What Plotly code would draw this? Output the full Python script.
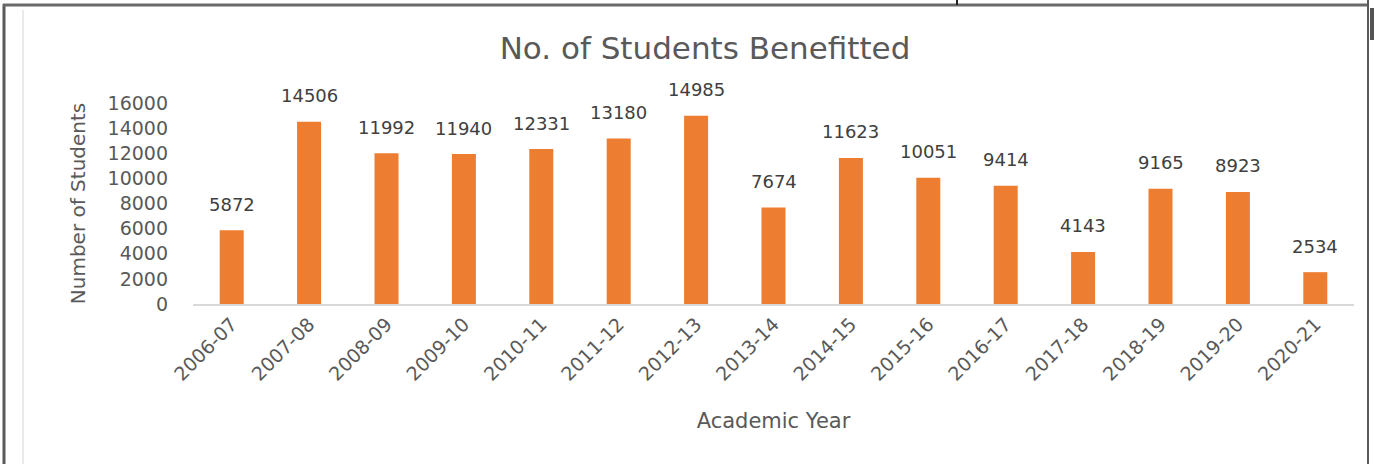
import plotly.graph_objects as go

years = ["2006-07", "2007-08", "2008-09", "2009-10", "2010-11", "2011-12", "2012-13",
         "2013-14", "2014-15", "2015-16", "2016-17", "2017-18", "2018-19", "2019-20", "2020-21"]
students = [5872, 14506, 11992, 11940, 12331, 13180, 14985,
            7674, 11623, 10051, 9414, 4143, 9165, 8923, 2534]
y_ticks = [0, 2000, 4000, 6000, 8000, 10000, 12000, 14000, 16000]

W, H = 1378, 464
ML, MR, MT, MB = 193, 24, 103, 160
PW, PH = W - ML - MR, H - MT - MB

def px(x):
    return (x - ML) / PW

def py(y):
    return (H - MB - y) / PH

FONT = "DejaVu Sans"
GRAY = "#595959"

fig = go.Figure(go.Bar(
    x=years, y=students,
    marker=dict(color="#ED7D31", line=dict(width=0)),
    cliponaxis=False,
))

annotations = [
    dict(x=yr, y=v, xref="x", yref="y", text=str(v), showarrow=False,
         yanchor="middle", yshift=26,
         font=dict(family=FONT, size=18, color="#404040"))
    for yr, v in zip(years, students)
]

shapes = [
    dict(type="line", xref="paper", yref="paper", x0=px(4), x1=px(4), y0=py(464), y1=py(4),
         line=dict(color="#5a5a5a", width=3)),
    dict(type="line", xref="paper", yref="paper", x0=px(3), x1=px(1369), y0=py(5), y1=py(5),
         line=dict(color="#6a6a6a", width=3)),
    dict(type="line", xref="paper", yref="paper", x0=px(1368), x1=px(1368), y0=py(464), y1=py(0),
         line=dict(color="#5a5a5a", width=2)),
    dict(type="line", xref="paper", yref="paper", x0=px(23), x1=px(23), y0=py(464), y1=py(10),
         line=dict(color="#d4d4d4", width=1)),
    dict(type="line", xref="paper", yref="paper", x0=px(1372), x1=px(1372), y0=py(8), y1=py(40),
         line=dict(color="#555555", width=4)),
    dict(type="line", xref="paper", yref="paper", x0=px(957), x1=px(957), y0=py(0), y1=py(5),
         line=dict(color="#222222", width=2)),
]

fig.update_layout(
    width=W, height=H,
    margin=dict(l=ML, r=MR, t=MT, b=MB, autoexpand=False),
    paper_bgcolor="white", plot_bgcolor="white",
    bargap=0.69,
    showlegend=False,
    title=dict(text="No. of Students Benefitted", x=705 / W, xanchor="center",
               y=1 - 48 / H, yanchor="middle",
               font=dict(family=FONT, size=31, color=GRAY)),
    xaxis=dict(
        type="category", tickangle=-45, showgrid=False,
        showline=True, linecolor="#d9d9d9", linewidth=1.5,
        ticks="", tickfont=dict(family=FONT, size=19, color=GRAY),
        title=dict(text="Academic Year", font=dict(family=FONT, size=21, color=GRAY), standoff=30),
    ),
    yaxis=dict(
        range=[0, 16000], tickvals=y_ticks, tickformat="d", showgrid=False, zeroline=False,
        showline=False, ticks="", ticklabelstandoff=24,
        tickfont=dict(family=FONT, size=19, color=GRAY),
        title=dict(text="Number of Students", font=dict(family=FONT, size=20, color=GRAY), standoff=16),
    ),
    shapes=shapes,
    annotations=annotations,
)

fig.write_html("out.html", config={"displayModeBar": False},
               post_script="document.body.style.margin='0';")
